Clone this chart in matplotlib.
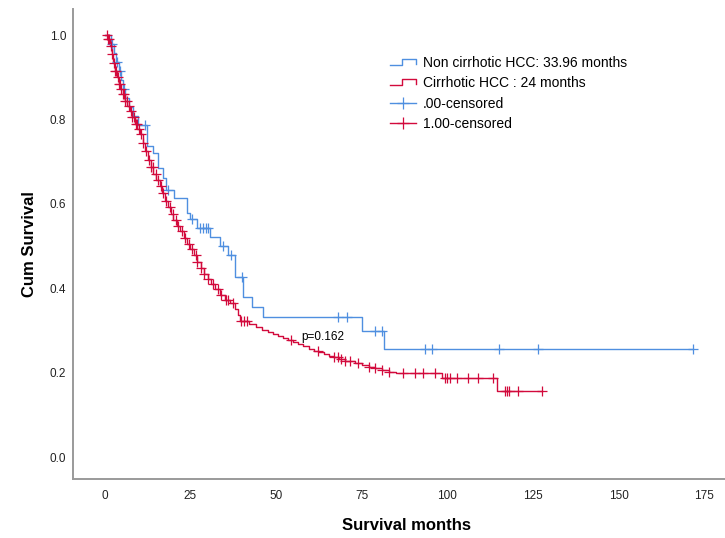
import numpy as np
import matplotlib.pyplot as plt
from matplotlib.lines import Line2D
from matplotlib.legend_handler import HandlerBase

plt.rcParams['font.family'] = ['Liberation Sans', 'DejaVu Sans']

# Kaplan-Meier step points (time in months, cumulative survival after the step)
non_cirr_t = [0, 1.8, 2.6, 3.2, 4.0, 4.6, 5.2, 6.0, 7.0, 8.2, 9.6,
              12.3, 14, 15.5, 17, 18, 20.2, 24, 25, 26.8, 30.7, 33.6,
              36, 38, 40.3, 42.9, 46.2, 75, 81.5]
non_cirr_s = [1.0, 0.979, 0.957, 0.936, 0.915, 0.894, 0.872, 0.851, 0.830, 0.809, 0.787,
              0.737, 0.720, 0.685, 0.661, 0.633, 0.614, 0.578, 0.564, 0.543, 0.521, 0.500,
              0.479, 0.427, 0.379, 0.355, 0.332, 0.298, 0.256]
non_cirr_cens = [2.2, 3.5, 4.3, 5.5, 11.7, 18.3, 25.4, 27.8, 28.6, 29.4, 30.1,
                 34.5, 36.8, 40, 68, 70.7, 79, 81, 93.5, 95.5, 115, 126.5, 171.8]

cirr_t = [0, 1, 1.5, 2, 2.4, 3, 3.5, 4, 4.5, 5.2, 6, 6.6, 7.3, 8, 8.8, 9.5,
          10.2, 11, 11.8, 12.6, 13.4, 14.2, 15, 16, 16.8, 17.6, 18.4, 19.2,
          20, 21, 22, 23, 24, 25, 26, 27, 28, 29, 30, 31, 32.2, 33.5, 35,
          36.5, 38, 38.8, 39.6, 42, 44, 46, 47.5, 49, 50.5, 52, 53.5, 55,
          56.5, 58, 59.5, 61, 62.5, 64, 65.5, 67, 68.5, 70, 73, 75, 77, 79,
          81, 83, 85, 98.5, 114.5]
cirr_s = [1.0, 0.99, 0.975, 0.955, 0.935, 0.915, 0.9, 0.885, 0.872, 0.86, 0.845,
          0.832, 0.82, 0.805, 0.79, 0.778, 0.765, 0.745, 0.725, 0.705, 0.688,
          0.672, 0.657, 0.642, 0.625, 0.608, 0.592, 0.577, 0.563, 0.548, 0.535,
          0.52, 0.506, 0.492, 0.478, 0.462, 0.448, 0.435, 0.422, 0.41, 0.398,
          0.385, 0.372, 0.364, 0.352, 0.336, 0.322, 0.316, 0.308, 0.3, 0.296,
          0.292, 0.288, 0.283, 0.278, 0.272, 0.268, 0.263, 0.257, 0.252, 0.248,
          0.244, 0.24, 0.236, 0.232, 0.228, 0.222, 0.218, 0.214, 0.21, 0.206,
          0.202, 0.199, 0.188, 0.156]
cirr_cens = [0.5, 1, 1.3, 1.8, 2.2, 2.6, 3, 3.3, 3.7, 4, 4.4, 4.8, 5.2, 5.6, 6,
             6.5, 7, 7.5, 8, 8.5, 9, 9.4, 10, 10.5, 11.2, 12, 12.8, 13.5, 14,
             14.8, 15.5, 16.3, 17, 18, 19, 19.8, 20.8, 21.5, 22.5, 23.5, 24.5,
             25.5, 26.5, 27, 28, 29, 30, 31.5, 33, 34, 35.5, 36, 37.5, 39.8,
             40.5, 41.5, 54.3, 62.2, 67, 68, 69, 70, 71.5, 74, 77, 79, 81, 83,
             87, 90.5, 93, 96.4, 99.3, 100, 100.8, 102.8, 106, 109, 113.4,
             116.9, 117.5, 118, 120.7, 127.7]

labels = ['Non cirrhotic HCC: 33.96 months', 'Cirrhotic HCC : 24 months',
          '.00-censored', '1.00-censored']
p_text = 'p=0.162'

BLUE = '#4f8fe0'
RED = '#d20a3c'


class StepHandler(HandlerBase):
    # small step-shaped icon like the SPSS legend
    def create_artists(self, legend, orig_handle, xdescent, ydescent,
                       width, height, fontsize, trans):
        x0, w = -xdescent, width
        lo, hi = -ydescent + height * 0.25, -ydescent + height * 0.8
        xs = [x0, x0 + 0.45 * w, x0 + 0.45 * w, x0 + w, x0 + w]
        ys = [lo, lo, hi, hi, lo + 0.1 * height]
        ln = Line2D(xs, ys, color=orig_handle.get_color(), lw=1.0)
        ln.set_transform(trans)
        return [ln]


def km_curve(ax, t, s, cens, color):
    t = np.asarray(t, float)
    s = np.asarray(s, float)
    cens = np.asarray(cens, float)
    end = max(t[-1], cens.max())
    ax.step(np.append(t, end), np.append(s, s[-1]), where='post',
            color=color, lw=1.0, zorder=3)
    idx = np.searchsorted(t, cens, side='right') - 1
    ax.plot(cens, s[idx], ls='none', marker='+', ms=6.5, mew=0.9,
            color=color, zorder=4)


fig = plt.figure(figsize=(7.25, 5.38), dpi=100)
ax = fig.add_axes([73 / 725, 1 - 479 / 538, 652 / 725, 470 / 538])

km_curve(ax, non_cirr_t, non_cirr_s, non_cirr_cens, BLUE)
km_curve(ax, cirr_t, cirr_s, cirr_cens, RED)

ax.text(57.5, 0.284, p_text, fontsize=8.5, ha='left', va='center')

ax.set_xlim(-9.3, 181.1)
ax.set_ylim(-0.052, 1.062)
ax.set_xticks(np.arange(0, 176, 25))
ax.set_yticks(np.arange(0, 1.01, 0.2))
ax.set_yticklabels([f'{v:.1f}' for v in np.arange(0, 1.01, 0.2)])
ax.tick_params(length=0, labelsize=8.5, colors='#222222')
ax.tick_params(axis='x', pad=8)
ax.tick_params(axis='y', pad=5)
for side in ['top', 'right']:
    ax.spines[side].set_visible(False)
for side in ['left', 'bottom']:
    ax.spines[side].set_color('#9a9a9a')
    ax.spines[side].set_linewidth(1.4)

ax.set_xlabel('Survival months', fontsize=12, fontweight='bold', va='center')
ax.xaxis.set_label_coords(0.512, -0.098)
ax.set_ylabel('Cum Survival', fontsize=12, fontweight='bold', va='center')
ax.yaxis.set_label_coords(-0.066, 0.5)

handles = [Line2D([], [], color=BLUE), Line2D([], [], color=RED),
           Line2D([], [], color=BLUE, marker='+', ms=8, lw=1.0, mew=0.9),
           Line2D([], [], color=RED, marker='+', ms=8, lw=1.0, mew=0.9)]
fig.legend(handles, labels, loc='upper left',
           bbox_to_anchor=(390 / 725, 1 - 56 / 538), frameon=False,
           fontsize=10, handlelength=1.9, handletextpad=0.45,
           labelspacing=0.45, borderpad=0, borderaxespad=0,
           handler_map={handles[0]: StepHandler(), handles[1]: StepHandler()})

fig.savefig('out.png', dpi=100)
